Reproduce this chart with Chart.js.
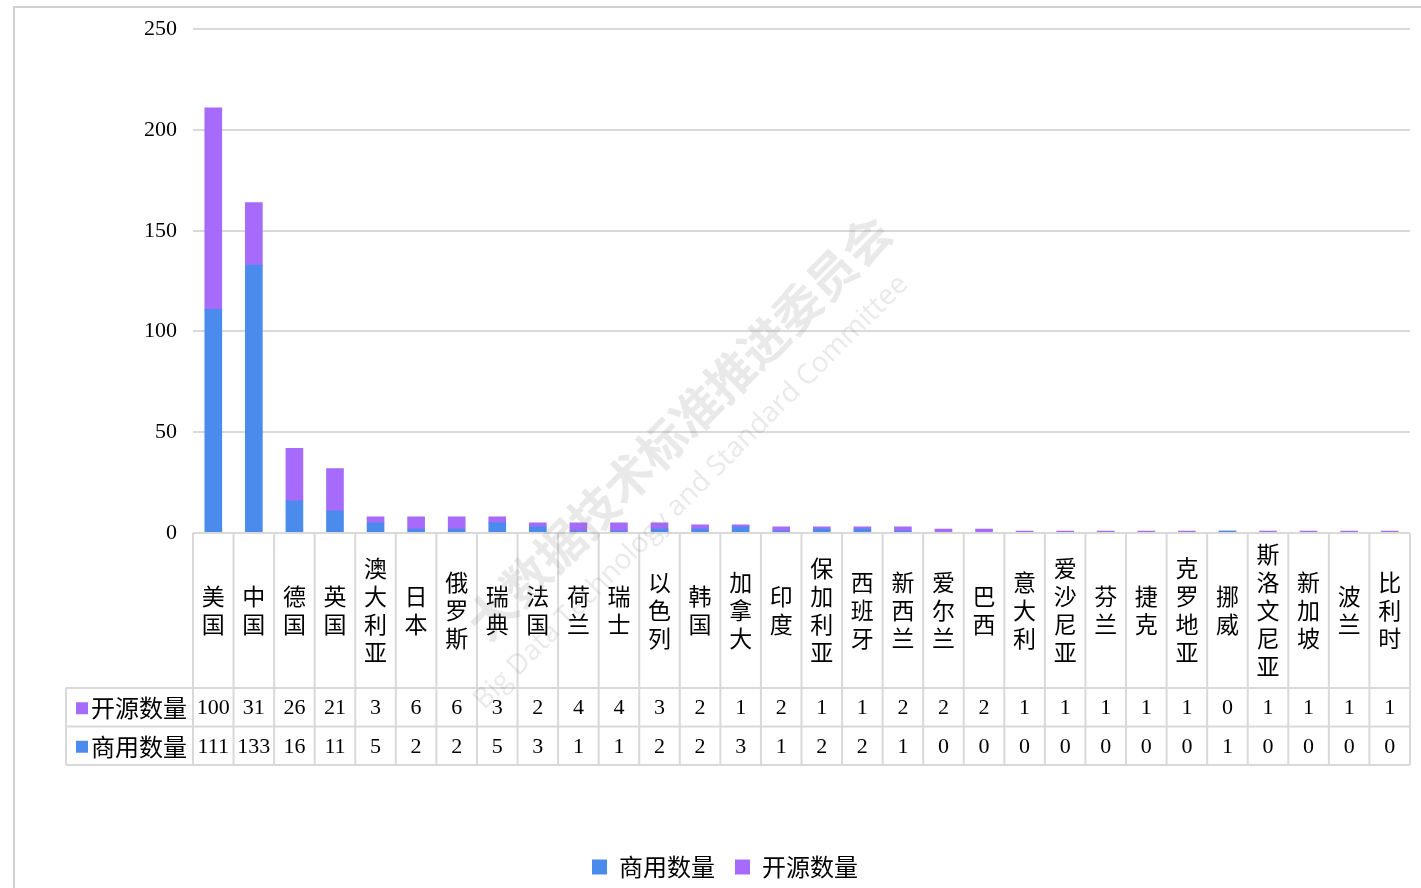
<!DOCTYPE html>
<html>
<head>
<meta charset="utf-8">
<script src="https://cdn.jsdelivr.net/npm/chart.js@4.4.0/dist/chart.umd.min.js"></script>
<style>
  html, body { margin: 0; padding: 0; background: #fff; }
  #wrap { width: 1421px; height: 888px; }
</style>
</head>
<body>
<div id="wrap"><canvas id="bar-chart"></canvas></div>
<script>
var countries = ['美国','中国','德国','英国','澳大利亚','日本','俄罗斯','瑞典','法国','荷兰','瑞士','以色列','韩国','加拿大','印度','保加利亚','西班牙','新西兰','爱尔兰','巴西','意大利','爱沙尼亚','芬兰','捷克','克罗地亚','挪威','斯洛文尼亚','新加坡','波兰','比利时'];
var openSource = [100,31,26,21,3,6,6,3,2,4,4,3,2,1,2,1,1,2,2,2,1,1,1,1,1,0,1,1,1,1];
var commercial = [111,133,16,11,5,2,2,5,3,1,1,2,2,3,1,2,2,1,0,0,0,0,0,0,0,1,0,0,0,0];
var yTicks = [0,50,100,150,200,250];

var blue = 'rgb(74,139,236)';
var purple = 'rgb(166,107,250)';
var lineColor = '#d9d9d9';
var cjk = '"Noto Sans CJK SC", "Noto Sans", sans-serif';
var serif = '"Liberation Serif", "DejaVu Serif", serif';

// rows of the data table under the bars (top to bottom)
var tableRows = [
  { label: '开源数量', color: purple, values: openSource },
  { label: '商用数量', color: blue, values: commercial }
];

var tablePlugin = {
  id: 'dataTable',
  afterDraw: function(chart) {
    var ctx = chart.ctx;
    var area = chart.chartArea;
    var x = chart.scales.x;
    var n = countries.length;
    var colW = (area.right - area.left) / n;
    var top = area.bottom;
    var headBottom = top + 155;
    var rowH = 38.5;
    var tableLeft = 66;
    var bottom = headBottom + rowH * tableRows.length;

    ctx.save();
    // outer frame
    ctx.strokeStyle = '#d0d0d0';
    ctx.lineWidth = 2;
    ctx.strokeRect(14, 7, 1500, 1000);

    ctx.strokeStyle = lineColor;
    ctx.lineWidth = 2;
    ctx.beginPath();
    ctx.moveTo(area.left, top); ctx.lineTo(area.right, top);
    for (var r = 0; r <= tableRows.length; r++) {
      ctx.moveTo(tableLeft, headBottom + r * rowH);
      ctx.lineTo(area.right, headBottom + r * rowH);
    }
    ctx.moveTo(tableLeft, headBottom); ctx.lineTo(tableLeft, bottom);
    for (var i = 0; i <= n; i++) {
      var bx = area.left + i * colW;
      ctx.moveTo(bx, top); ctx.lineTo(bx, bottom);
    }
    ctx.stroke();

    // category headers, written top to bottom
    ctx.fillStyle = '#000';
    ctx.textAlign = 'center';
    ctx.textBaseline = 'middle';
    ctx.font = '23px ' + cjk;
    var step = 28;
    var midHead = (top + headBottom) / 2;
    countries.forEach(function(name, i) {
      var cx = x.getPixelForValue(i);
      var chars = name.split('');
      var y0 = midHead - (chars.length - 1) * step / 2;
      chars.forEach(function(c, k) { ctx.fillText(c, cx, y0 + k * step); });
    });

    // value rows
    tableRows.forEach(function(row, r) {
      var cy = headBottom + r * rowH + rowH / 2 + 1;
      ctx.fillStyle = row.color;
      ctx.fillRect(76, cy - 6, 12, 12);
      ctx.fillStyle = '#000';
      ctx.textAlign = 'left';
      ctx.font = '24px ' + cjk;
      ctx.fillText(row.label, 91, cy);
      ctx.textAlign = 'center';
      ctx.font = '22px ' + serif;
      row.values.forEach(function(v, i) {
        ctx.fillText(String(v), x.getPixelForValue(i), cy);
      });
    });

    // watermark text
    ctx.globalAlpha = 0.16;
    ctx.fillStyle = '#777';
    ctx.translate(560, 560);
    ctx.rotate(-Math.PI / 4);
    ctx.textAlign = 'left';
    ctx.font = 'bold 48px ' + cjk;
    ctx.fillText('大数据技术标准推进委员会', -110, -10);
    ctx.font = '28px "Open Sans", sans-serif';
    ctx.fillText('Big Data Technology and Standard Committee', -160, 45);
    ctx.restore();
  }
};

var ctx = document.getElementById('bar-chart');

var myBarChart = new Chart(ctx, {
  type: 'bar',
  data: {
    labels: countries,
    datasets: [
      {
        label: '商用数量',
        data: commercial,
        backgroundColor: blue,
        barThickness: 17
      },
      {
        label: '开源数量',
        data: openSource,
        backgroundColor: purple,
        barThickness: 17
      }
    ]
  },
  options: {
    responsive: true,
    maintainAspectRatio: false,
    animation: false,
    layout: { padding: { left: 40, right: 11, top: 19, bottom: -1 } },
    plugins: {
      tooltip: { enabled: false },
      legend: {
        position: 'bottom',
        labels: {
          font: { size: 24, family: cjk },
          color: '#000',
          boxWidth: 15,
          boxHeight: 15,
          padding: 20
        }
      }
    },
    scales: {
      x: {
        stacked: true,
        grid: { display: false },
        border: { display: false },
        ticks: { display: false },
        afterFit: function(scale) { scale.height = 302; }
      },
      y: {
        stacked: true,
        min: 0,
        max: 250,
        afterBuildTicks: function(scale) {
          scale.ticks = yTicks.map(function(v) { return { value: v }; });
        },
        afterFit: function(scale) { scale.width = 153; },
        grid: { color: lineColor, lineWidth: 2, drawTicks: false },
        border: { display: false },
        ticks: {
          padding: 16,
          color: '#000',
          font: { size: 22, family: serif }
        }
      }
    }
  },
  plugins: [tablePlugin]
});
</script>
</body>
</html>
